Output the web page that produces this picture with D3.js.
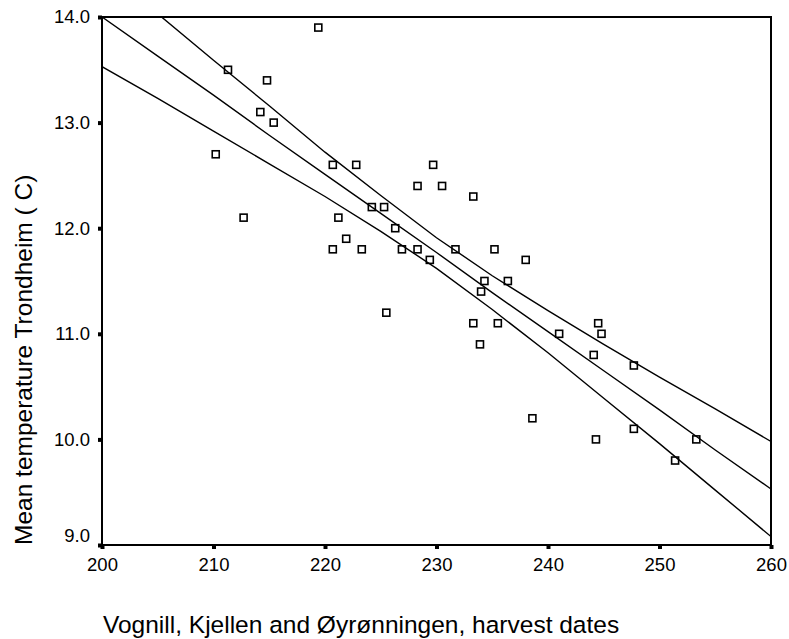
<!DOCTYPE html>
<html>
<head>
<meta charset="utf-8">
<script src="https://cdn.jsdelivr.net/npm/d3@7"></script>
<style>
  html, body { margin: 0; padding: 0; background: #fff; }
  svg { display: block; }
  text { font-family: "Liberation Sans", Arial, sans-serif; fill: #000; }
</style>
</head>
<body>
<svg id="chart" width="789" height="639"></svg>
<script>
// Harvest dates (day of year)
const harvestDates = [
  219.4, 211.3, 214.8, 214.2, 215.4, 210.2, 220.7, 222.8, 229.7, 228.3,
  230.5, 233.3, 212.7, 224.2, 225.3, 221.2, 226.3, 221.9, 220.7, 223.3,
  226.9, 228.3, 231.7, 235.2, 229.4, 234.3, 234.0, 225.5, 233.3, 235.5,
  238.0, 236.4, 233.9, 241.0, 244.5, 244.8, 244.1, 247.7, 238.6, 244.3,
  247.7, 253.3, 251.4
];
// Mean temperature Trondheim
const meanTemps = [
  13.9, 13.5, 13.4, 13.1, 13.0, 12.7, 12.6, 12.6, 12.6, 12.4,
  12.4, 12.3, 12.1, 12.2, 12.2, 12.1, 12.0, 11.9, 11.8, 11.8,
  11.8, 11.8, 11.8, 11.8, 11.7, 11.5, 11.4, 11.2, 11.1, 11.1,
  11.7, 11.5, 10.9, 11.0, 11.1, 11.0, 10.8, 10.7, 10.2, 10.0,
  10.1, 10.0, 9.8
];
// Fit line and band, read at fixed dates
const fitDates  = [200, 205, 210, 215, 220, 225, 230, 235, 240, 245, 250, 255, 260];
const fitMean   = [14.00, 13.63, 13.26, 12.88, 12.51, 12.14, 11.77, 11.39, 11.02, 10.65, 10.28, 9.90, 9.53];
const fitUpper  = [14.47, 14.03, 13.59, 13.16, 12.72, 12.31, 11.91, 11.55, 11.22, 10.90, 10.59, 10.29, 9.98];
const fitLower  = [13.53, 13.23, 12.92, 12.61, 12.30, 11.97, 11.62, 11.23, 10.82, 10.39, 9.96, 9.52, 9.08];

const xTicks = [200, 210, 220, 230, 240, 250, 260];
const yTicks = [9.0, 10.0, 11.0, 12.0, 13.0, 14.0];
const xTitle = "Vognill, Kjellen and Øyrønningen, harvest dates";
const yTitle = "Mean temperature Trondheim ( C)";

const svg = d3.select("#chart");
const L = 102, R = 771, T = 17, B = 545;

const x = d3.scaleLinear().domain([200, 260]).range([L, R]);
const y = d3.scaleLinear().domain([9, 14]).range([B, T]);

svg.append("clipPath").attr("id", "clip")
  .append("rect").attr("x", L).attr("y", T).attr("width", R - L).attr("height", B - T);

// fit lines
const lineGen = vals => d3.line()
  .x((d, i) => x(fitDates[i]))
  .y(d => y(d))(vals);

const g = svg.append("g").attr("clip-path", "url(#clip)");
[fitUpper, fitMean, fitLower].forEach(vals => {
  g.append("path")
    .attr("d", lineGen(vals))
    .attr("fill", "none")
    .attr("stroke", "#000")
    .attr("stroke-width", 1.4);
});

// points
const s = 7;
svg.append("g").selectAll("rect")
  .data(harvestDates.map((d, i) => [d, meanTemps[i]]))
  .join("rect")
  .attr("x", d => x(d[0]) - s / 2)
  .attr("y", d => y(d[1]) - s / 2)
  .attr("width", s).attr("height", s)
  .attr("fill", "none")
  .attr("stroke", "#000")
  .attr("stroke-width", 1.6);

// frame
svg.append("rect")
  .attr("x", L).attr("y", T).attr("width", R - L).attr("height", B - T)
  .attr("fill", "none").attr("stroke", "#000").attr("stroke-width", 2);

// axes
const xAxis = svg.append("g").attr("transform", `translate(0,${B})`)
  .call(d3.axisBottom(x).tickValues(xTicks).tickFormat(d3.format("d"))
    .tickSize(4).tickPadding(9));
const yAxis = svg.append("g").attr("transform", `translate(${L},0)`)
  .call(d3.axisLeft(y).tickValues(yTicks).tickFormat(d3.format(".1f"))
    .tickSize(4).tickPadding(8));

[xAxis, yAxis].forEach(a => {
  a.select(".domain").remove();
  a.selectAll(".tick line").attr("stroke", "#000").attr("stroke-width", 4);
  a.selectAll(".tick text")
    .style("font-family", '"Liberation Sans", Arial, sans-serif')
    .style("font-size", "18.5px").attr("fill", "#000");
});
yAxis.selectAll(".tick text").filter(d => d === 9).attr("dy", "-0.2em");

// titles
svg.append("text")
  .attr("x", 103).attr("y", 633)
  .style("font-size", "24.5px")
  .text(xTitle);

svg.append("text")
  .attr("transform", "translate(32,545) rotate(-90)")
  .attr("text-anchor", "start")
  .style("font-size", "24.5px")
  .text(yTitle);
</script>
</body>
</html>
